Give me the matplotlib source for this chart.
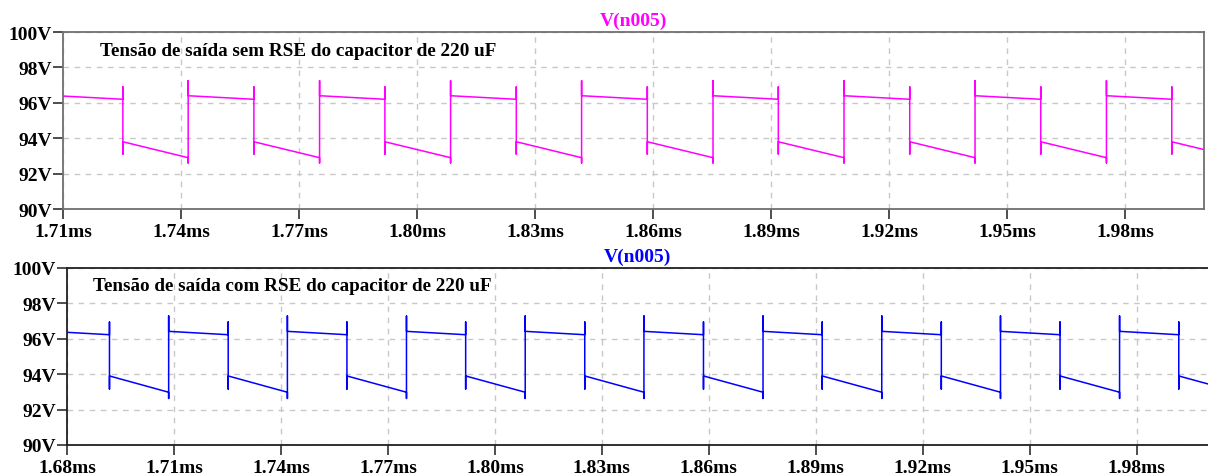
import matplotlib.pyplot as plt
from matplotlib.ticker import FixedLocator, FuncFormatter

# switching edges of V(n005), in ms (30 kHz, ~50% duty)
fall_times = [1.6919, 1.7252, 1.7585, 1.7918, 1.8252, 1.8585, 1.8918, 1.9252, 1.9585, 1.9918]
rise_times = [1.6752, 1.7085, 1.7418, 1.7752, 1.8085, 1.8418, 1.8752, 1.9085, 1.9418, 1.9752, 2.0085]

# voltage levels at each edge (V): high ramp start/end, low ramp start/end, spikes
top_levels = {
    'high_start': 96.40, 'high_end': 96.20,
    'fall_spike_top': 96.90, 'fall_spike_bottom': 93.10,
    'low_start': 93.80, 'low_end': 92.90,
    'rise_spike_bottom': 92.60, 'rise_spike_top': 97.25,
}
bottom_levels = {
    'high_start': 96.42, 'high_end': 96.23,
    'fall_spike_top': 96.95, 'fall_spike_bottom': 93.16,
    'low_start': 93.90, 'low_end': 92.98,
    'rise_spike_bottom': 92.63, 'rise_spike_top': 97.29,
}

top_ticks = [1.71, 1.74, 1.77, 1.80, 1.83, 1.86, 1.89, 1.92, 1.95, 1.98]
bottom_ticks = [1.68, 1.71, 1.74, 1.77, 1.80, 1.83, 1.86, 1.89, 1.92, 1.95, 1.98]
volt_ticks = [90, 92, 94, 96, 98, 100]


def waveform(lv):
    """Piecewise trace through the edge list: vertical spikes at each edge."""
    edges = sorted([(t, 'r') for t in rise_times] + [(t, 'f') for t in fall_times])
    t_out, v_out = [], []
    for t, kind in edges:
        t_out += [t, t, t, t]
        if kind == 'f':
            v_out += [lv['high_end'], lv['fall_spike_top'], lv['fall_spike_bottom'], lv['low_start']]
        else:
            v_out += [lv['low_end'], lv['rise_spike_bottom'], lv['rise_spike_top'], lv['high_start']]
    return t_out, v_out


serif = 'Liberation Serif'
fig = plt.figure(figsize=(12.08, 4.77), dpi=100)

panels = [
    dict(rect=[0.0522, 0.5597, 0.9445, 0.3711], xlim=(1.71, 2.00), ticks=top_ticks,
         levels=top_levels, color='#ff00ff', spine='#707070', right=True,
         note='Tensão de saída sem RSE do capacitor de 220 uF', note_xy=(1.7194, 98.93)),
    dict(rect=[0.0555, 0.0650, 0.9445, 0.3711], xlim=(1.68, 2.00), ticks=bottom_ticks,
         levels=bottom_levels, color='#0000ff', spine='#202020', right=False,
         note='Tensão de saída com RSE do capacitor de 220 uF', note_xy=(1.6873, 99.0)),
]

for p in panels:
    ax = fig.add_axes(p['rect'])
    t, v = waveform(p['levels'])
    ax.plot(t, v, color=p['color'], lw=1.1)
    ax.set_xlim(*p['xlim'])
    ax.set_ylim(90, 100)

    ax.xaxis.set_major_locator(FixedLocator(p['ticks']))
    ax.yaxis.set_major_locator(FixedLocator(volt_ticks))
    ax.xaxis.set_major_formatter(FuncFormatter(lambda x, _: f'{x:.2f}ms'))
    ax.yaxis.set_major_formatter(FuncFormatter(lambda y, _: f'{y:.0f}V'))
    for lab in ax.get_xticklabels() + ax.get_yticklabels():
        lab.set_fontfamily(serif)
        lab.set_fontweight('bold')
        lab.set_fontsize(14)
    ax.tick_params(direction='out', length=7, width=1.2, color='#303030', pad=1)
    ax.tick_params(axis='x', pad=3)

    ax.grid(True, color='#c8c8c8', linestyle=(0, (4, 4)), lw=1)
    for s in ax.spines.values():
        s.set_color(p['spine'])
        s.set_linewidth(1.3)
    ax.spines['right'].set_visible(p['right'])

    ax.set_title('V(n005)', color=p['color'], fontfamily=serif, fontweight='bold',
                 fontsize=14, pad=5)
    ax.text(*p['note_xy'], p['note'], fontfamily=serif, fontweight='bold',
            fontsize=13.8, va='center', ha='left', color='black')

fig.savefig('out.png', dpi=100)
